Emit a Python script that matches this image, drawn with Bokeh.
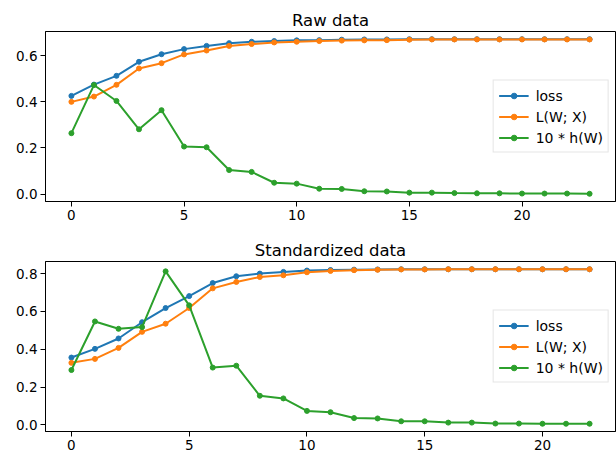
from bokeh.plotting import figure
from bokeh.layouts import column
from bokeh.models import Range1d, FixedTicker, PrintfTickFormatter
from bokeh.embed import file_html
from bokeh.resources import INLINE

# ---- data ----
x_raw = list(range(24))
loss_raw = [0.426, 0.475, 0.513, 0.574, 0.607, 0.629, 0.643, 0.655, 0.661, 0.664, 0.667, 0.668,
            0.670, 0.671, 0.671, 0.672, 0.672, 0.672, 0.672, 0.672, 0.672, 0.672, 0.672, 0.672]
L_raw = [0.400, 0.423, 0.474, 0.545, 0.568, 0.606, 0.623, 0.643, 0.651, 0.658, 0.661, 0.664,
         0.666, 0.667, 0.668, 0.670, 0.671, 0.671, 0.671, 0.671, 0.671, 0.671, 0.671, 0.671]
h_raw = [0.264, 0.473, 0.404, 0.281, 0.364, 0.206, 0.203, 0.104, 0.096, 0.049, 0.045, 0.023,
         0.022, 0.012, 0.011, 0.006, 0.006, 0.004, 0.003, 0.003, 0.002, 0.002, 0.002, 0.001]

x_std = list(range(23))
loss_std = [0.356, 0.402, 0.457, 0.543, 0.618, 0.681, 0.750, 0.786, 0.800, 0.809, 0.816, 0.819,
            0.821, 0.822, 0.823, 0.823, 0.823, 0.823, 0.823, 0.823, 0.823, 0.823, 0.823]
L_std = [0.328, 0.349, 0.407, 0.492, 0.535, 0.618, 0.722, 0.756, 0.782, 0.791, 0.807, 0.814,
         0.818, 0.820, 0.822, 0.822, 0.823, 0.823, 0.823, 0.823, 0.823, 0.823, 0.823]
h_std = [0.290, 0.547, 0.508, 0.517, 0.812, 0.632, 0.303, 0.313, 0.154, 0.140, 0.074, 0.067,
         0.036, 0.034, 0.019, 0.019, 0.012, 0.012, 0.007, 0.007, 0.006, 0.006, 0.006]

labels = ["loss", "L(W; X)", "10 * h(W)"]
colors = ["#1f77b4", "#ff7f0e", "#2ca02c"]
x_ticks = [0, 5, 10, 15, 20]
y_ticks_raw = [0.0, 0.2, 0.4, 0.6]
y_ticks_std = [0.0, 0.2, 0.4, 0.6, 0.8]

FONT = "DejaVu Sans"


def make(title, x, series, xr, yr, yticks, height, bt, bb):
    p = figure(width=616, height=height, output_backend="svg", toolbar_location=None,
               x_range=Range1d(*xr), y_range=Range1d(*yr),
               min_border_left=45, min_border_right=1,
               min_border_top=bt, min_border_bottom=bb)
    p.title.text = title
    p.title.align = "center"
    p.title.text_font = FONT
    p.title.text_font_size = "16.5px"
    p.title.text_font_style = "normal"
    p.title.text_color = "black"
    p.title.standoff = 4
    p.grid.visible = False
    p.outline_line_color = "black"
    p.outline_line_width = 1
    for ax in (p.xaxis, p.yaxis):
        ax.major_label_text_font = FONT
        ax.major_label_text_font_size = "13.5px"
        ax.major_label_text_color = "black"
        ax.axis_line_color = "black"
        ax.major_tick_line_color = "black"
        ax.major_tick_out = 5
        ax.major_tick_in = 0
        ax.minor_tick_out = 0
        ax.minor_tick_in = 0
        ax.major_label_standoff = 3
    p.xaxis.ticker = FixedTicker(ticks=x_ticks)
    p.yaxis.ticker = FixedTicker(ticks=yticks)
    p.yaxis.formatter = PrintfTickFormatter(format="%.1f")
    for vals, lab, col in zip(series, labels, colors):
        p.line(x, vals, line_color=col, line_width=2, legend_label=lab)
        p.scatter(x, vals, size=5, fill_color=col, line_color=col, legend_label=lab)
    lg = p.legend[0]
    lg.location = "center_right"
    lg.label_text_font = FONT
    lg.label_text_font_size = "14px"
    lg.label_text_color = "black"
    lg.glyph_width = 30
    lg.glyph_height = 14
    lg.label_height = 19
    lg.label_standoff = 7
    lg.spacing = 2
    lg.padding = 5
    lg.margin = 6
    lg.border_line_color = "#cccccc"
    lg.border_line_width = 1
    lg.background_fill_alpha = 0.8
    return p


p1 = make("Raw data", x_raw, [loss_raw, L_raw, h_raw], (-1.15, 24.15), (-0.0325, 0.7055),
          y_ticks_raw, 230, 31, 29)
p2 = make("Standardized data", x_std, [loss_std, L_std, h_std], (-1.1, 23.1), (-0.035, 0.864),
          y_ticks_std, 222, 31, 21)

layout = column(p1, p2, spacing=0)
open("out.html", "w").write(file_html(layout, INLINE))
